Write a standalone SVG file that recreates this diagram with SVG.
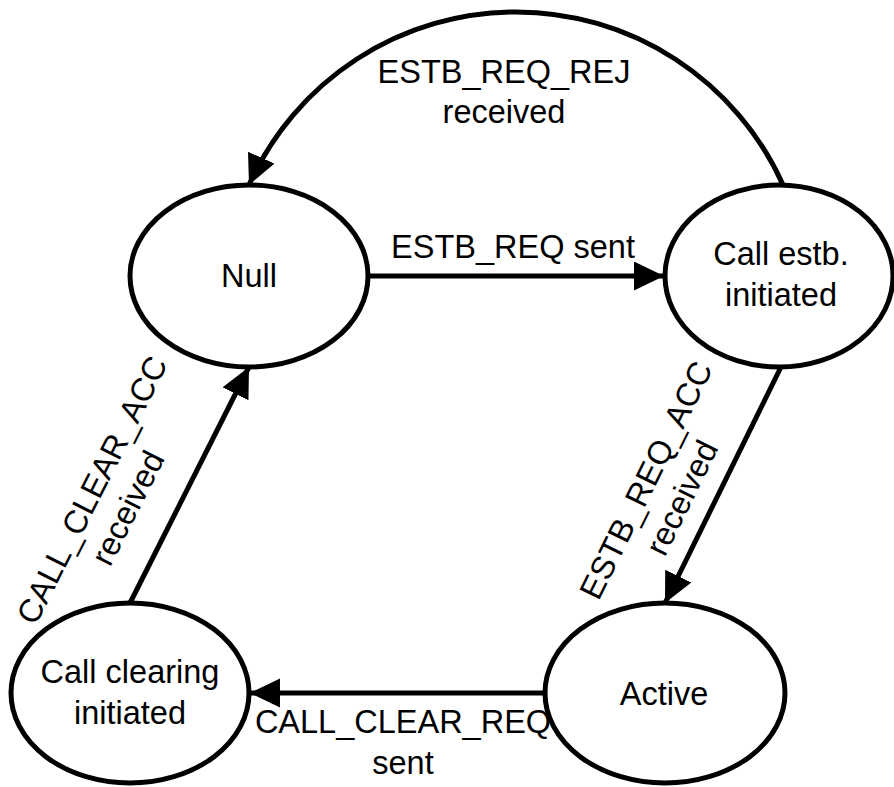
<svg xmlns="http://www.w3.org/2000/svg" width="894" height="787" viewBox="0 0 894 787">
<style>
.node{fill:#fff;stroke:#000;stroke-width:5}
.edge{fill:none;stroke:#000;stroke-width:5;marker-end:url(#arrow)}
text{font-family:"Liberation Sans",Arial,sans-serif;font-size:32.5px;fill:#000;text-anchor:middle}
</style>
<defs>
<marker id="arrow" markerUnits="userSpaceOnUse" markerWidth="32" markerHeight="30" refX="30" refY="14.5" orient="auto" viewBox="0 0 32 30">
<path d="M0,0 L30,14.5 L0,29 z" fill="#000"/>
</marker>
</defs>
<rect width="894" height="787" fill="#fff"/>
<g id="connectors">
<path class="edge" d="M368,276 L664,276"/>
<path class="edge" d="M783,185 A292.5,292.5 0 0 0 249,185"/>
<path class="edge" d="M781,367 L665,603"/>
<path class="edge" d="M545,693 L250,693"/>
<path class="edge" d="M130,603 L249,367"/>
<text x="513" y="258">ESTB_REQ sent</text>
<text x="504" y="83">ESTB_REQ_REJ</text>
<text x="504" y="123">received</text>
<g transform="translate(102,495) rotate(-63.2)"><text x="0" y="0">CALL_CLEAR_ACC</text><text x="0" y="40">received</text></g>
<g transform="translate(656,485) rotate(-63.8)"><text x="0" y="0">ESTB_REQ_ACC</text><text x="0" y="40">received</text></g>
<text x="403" y="733">CALL_CLEAR_REQ</text>
<text x="403" y="774">sent</text>
</g>
<g id="null"><ellipse class="node" cx="249" cy="276" rx="119" ry="91"/><text x="249" y="287">Null</text></g>
<g id="call-estb"><ellipse class="node" cx="779" cy="276" rx="114" ry="91"/><text x="781" y="265">Call estb.</text><text x="781" y="306">initiated</text></g>
<g id="call-clearing"><ellipse class="node" cx="130" cy="693" rx="119" ry="90"/><text x="130" y="683">Call clearing</text><text x="130" y="724">initiated</text></g>
<g id="active"><ellipse class="node" cx="665" cy="693" rx="120" ry="90"/><text x="664" y="705">Active</text></g>
</svg>
